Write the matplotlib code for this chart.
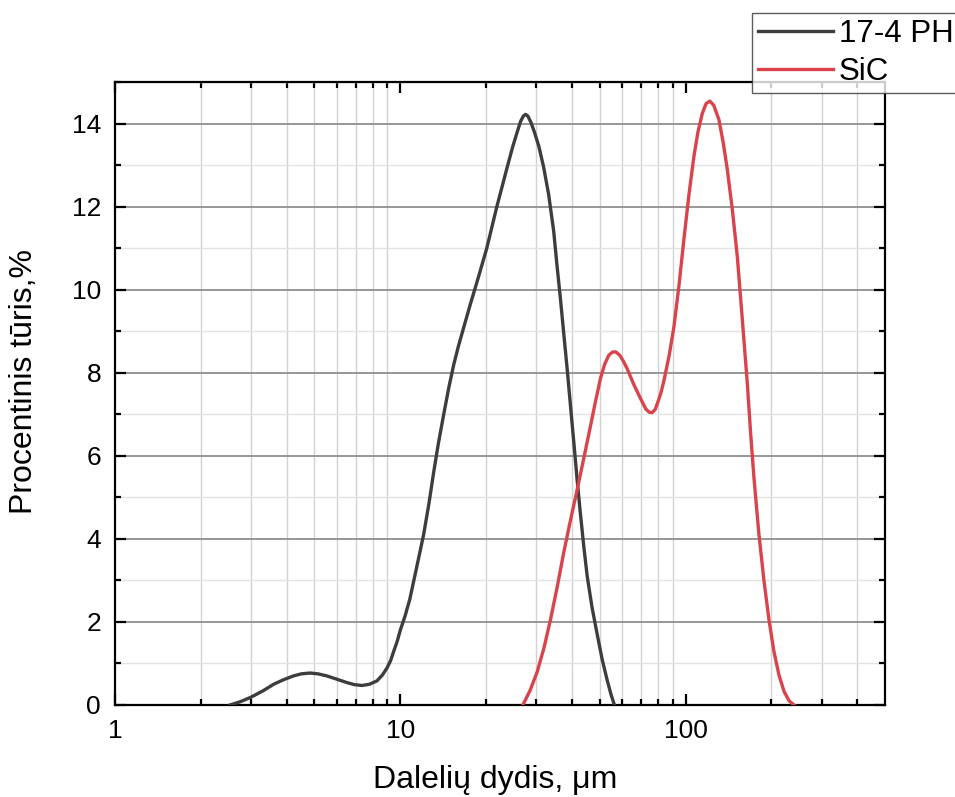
"""Particle size distribution: 17-4 PH steel vs SiC powder (log x axis)."""
import matplotlib
matplotlib.use("Agg")
import matplotlib.pyplot as plt
from matplotlib.ticker import FixedLocator, NullFormatter, MultipleLocator

plt.rcParams["font.family"] = ["Liberation Sans", "DejaVu Sans"]

# values
ph_size = [2.53, 2.75, 2.98, 3.3, 3.6, 3.9, 4.22, 4.5, 4.83, 5.15, 5.53, 6.0,
           6.5, 6.9, 7.34, 7.8, 8.28, 8.65, 8.98, 9.25, 9.48, 9.75, 10.0,
           10.4, 10.8, 11.4, 12.07, 12.6, 13.09, 13.6, 14.2, 14.8, 15.4, 16.0,
           16.7, 17.6, 18.6, 20.1, 21.8, 23.7, 24.8, 25.7, 26.4, 27.0, 27.5,
           28.0, 28.7, 29.5, 30.6, 31.8, 33.1, 34.5, 35.4, 36.4, 37.4, 38.5,
           39.5, 40.6, 41.7, 42.8, 44.0, 45.2, 47.0, 49.0, 51.0, 53.1, 54.8,
           56.3]
ph_vol = [0.0, 0.08, 0.18, 0.34, 0.5, 0.61, 0.70, 0.75, 0.77, 0.75, 0.70, 0.62,
          0.54, 0.49, 0.47, 0.5, 0.58, 0.72, 0.89, 1.07, 1.29, 1.53, 1.80,
          2.15, 2.55, 3.3, 4.1, 4.85, 5.6, 6.3, 7.0, 7.65, 8.2, 8.65,
          9.1, 9.65, 10.2, 11.0, 12.0, 12.95, 13.45, 13.8, 14.05, 14.18, 14.22,
          14.18, 14.03, 13.8, 13.45, 12.95, 12.3, 11.4, 10.6, 9.8, 8.95, 8.05,
          7.2, 6.3, 5.4, 4.6, 3.8, 3.1, 2.35, 1.7, 1.1, 0.6, 0.25,
          0.0]

sic_size = [26.9, 28.5, 30.2, 31.9, 33.6, 35.5, 37.4, 39.5, 41.7, 44.0, 46.4,
            48.3, 50.3, 52.0, 53.8, 55.5, 57.0, 58.8, 60.5, 62.4, 65.5, 69.5,
            72.5, 74.5, 76.4, 78.3, 80.0, 82.0, 83.9, 87.5, 91.0, 94.8, 98.6,
            102.8, 106.9, 110.5, 114.4, 118.0, 121.6, 125.5, 130.8, 135.4,
            140.0, 146.0, 151.8, 158.0, 164.5, 169.0, 173.6, 180.5, 188.2,
            196.0, 204.0, 212.5, 221.3, 230.5, 239.9]
sic_vol = [0.0, 0.35, 0.8, 1.38, 2.05, 2.85, 3.67, 4.45, 5.19, 5.95, 6.71,
           7.3, 7.86, 8.2, 8.42, 8.5, 8.5, 8.42, 8.28, 8.1, 7.75, 7.38,
           7.13, 7.05, 7.04, 7.12, 7.3, 7.52, 7.8, 8.4, 9.1, 10.1, 11.2,
           12.3, 13.2, 13.8, 14.24, 14.48, 14.54, 14.44, 14.1, 13.55,
           12.9, 11.9, 10.8, 9.3, 7.76, 6.55, 5.48, 4.15, 3.0,
           2.05, 1.29, 0.72, 0.33, 0.1, 0.0]

labels = ["17-4 PH", "SiC"]
x_ticks = [1, 10, 100]
x_tick_labels = ["1", "10", "100"]

fig = plt.figure(figsize=(9.55, 7.97), dpi=100)
ax = fig.add_axes([115 / 955, 1 - 705 / 797, 770 / 955, 623 / 797])

ax.plot(ph_size, ph_vol, "-", color="#3d3d3d", lw=2.4, label=labels[0], zorder=3)
ax.plot(sic_size, sic_vol, "-", color="#d9434c", lw=2.4, label=labels[1], zorder=3)

ax.set_xscale("log")
ax.set_xlim(1, 500)
ax.set_ylim(0, 15)

ax.xaxis.set_major_locator(FixedLocator(x_ticks))
ax.set_xticklabels(x_tick_labels)
minors = [m * 10 ** d for d in range(0, 3) for m in range(2, 10) if m * 10 ** d < 500]
ax.xaxis.set_minor_locator(FixedLocator(minors))
ax.xaxis.set_minor_formatter(NullFormatter())
ax.yaxis.set_major_locator(MultipleLocator(2))
ax.yaxis.set_minor_locator(MultipleLocator(1))

# grid: light vertical minors, darker even horizontals, faint odd horizontals
ax.grid(False)
ax.xaxis.grid(True, which="minor", color="#d2d2d2", lw=1.0)
ax.yaxis.grid(True, which="major", color="#8f8f8f", lw=1.3)
ax.yaxis.grid(True, which="minor", color="#e3e3e3", lw=1.0)
ax.set_axisbelow(True)

ax.tick_params(which="both", direction="in", top=True, right=True,
               labelsize=19, width=1.6, color="black")
ax.tick_params(which="major", length=8, pad=10)
ax.tick_params(which="minor", length=4)
for s in ax.spines.values():
    s.set_linewidth(1.6)

ax.set_xlabel("Dalelių dydis, μm", fontsize=23, va="center")
ax.set_ylabel("Procentinis tūris,%", fontsize=23, va="center")
ax.xaxis.set_label_coords(0.4935, -0.121)
ax.yaxis.set_label_coords(-0.118, 0.519)

# legend sits partly past the right edge, as in the source figure
leg = fig.legend(loc="upper left", bbox_to_anchor=(752 / 955, 1 - 13 / 797),
                 fontsize=22.5, frameon=True, fancybox=False, edgecolor="#333333",
                 handlelength=2.4, handletextpad=0.2, labelspacing=0.27,
                 borderpad=0.18, borderaxespad=0)
leg.get_frame().set_linewidth(1.0)

fig.savefig("out.png", dpi=100)
